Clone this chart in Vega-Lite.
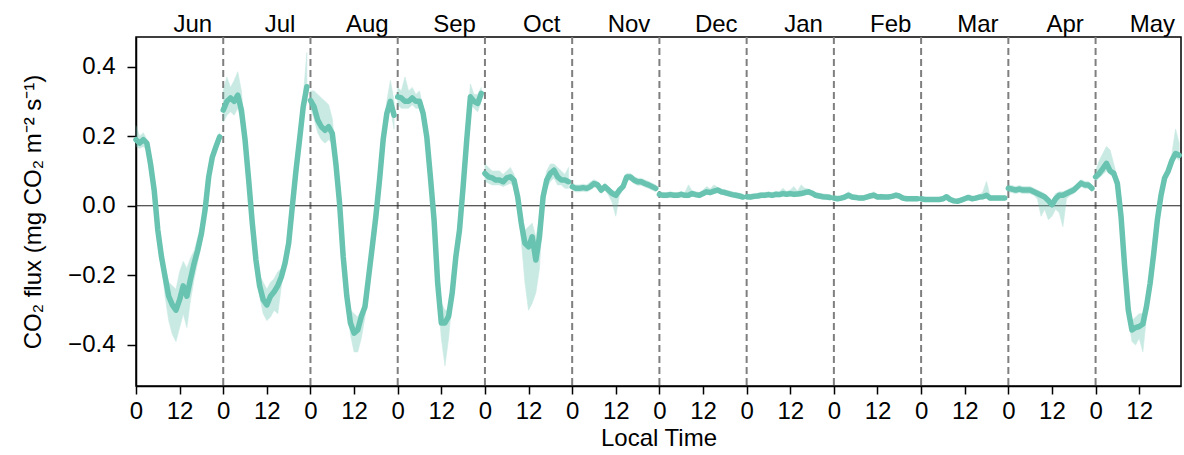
{
"$schema":"https://vega.github.io/schema/vega-lite/v6.json",
"width":1045,"height":349,
"autosize":"none",
"padding":{"left":136,"top":37,"right":3,"bottom":69},
"background":"white",
"config":{
 "view":{"stroke":"black","strokeWidth":1.5},
 "font":"Liberation Sans",
 "axis":{"labelFont":"Liberation Sans","titleFont":"Liberation Sans","labelFontSize":24,"titleFontSize":24,"titleFontWeight":"normal","labelColor":"black","titleColor":"black","domainColor":"black","tickColor":"black","domainWidth":1.5,"tickWidth":1.5,"tickSize":8,"grid":false}
},
"datasets":{
 "flux":[
{"m":"Jun","t":0,"v":0.19,"lo":0.17,"hi":0.23},
{"m":"Jun","t":1,"v":0.18,"lo":0.165,"hi":0.2},
{"m":"Jun","t":2,"v":0.19,"lo":0.17,"hi":0.21},
{"m":"Jun","t":3,"v":0.18,"lo":0.16,"hi":0.19},
{"m":"Jun","t":4,"v":0.12,"lo":0.105,"hi":0.13},
{"m":"Jun","t":5,"v":0.045,"lo":0.03,"hi":0.055},
{"m":"Jun","t":6,"v":-0.07,"lo":-0.085,"hi":-0.06},
{"m":"Jun","t":7,"v":-0.146,"lo":-0.165,"hi":-0.13},
{"m":"Jun","t":8,"v":-0.204,"lo":-0.26,"hi":-0.18},
{"m":"Jun","t":9,"v":-0.26,"lo":-0.33,"hi":-0.22},
{"m":"Jun","t":10,"v":-0.285,"lo":-0.37,"hi":-0.23},
{"m":"Jun","t":11,"v":-0.3,"lo":-0.39,"hi":-0.24},
{"m":"Jun","t":12,"v":-0.27,"lo":-0.35,"hi":-0.19},
{"m":"Jun","t":13,"v":-0.23,"lo":-0.31,"hi":-0.16},
{"m":"Jun","t":14,"v":-0.26,"lo":-0.35,"hi":-0.18},
{"m":"Jun","t":15,"v":-0.21,"lo":-0.27,"hi":-0.15},
{"m":"Jun","t":16,"v":-0.165,"lo":-0.21,"hi":-0.13},
{"m":"Jun","t":17,"v":-0.127,"lo":-0.16,"hi":-0.09},
{"m":"Jun","t":18,"v":-0.08,"lo":-0.11,"hi":-0.05},
{"m":"Jun","t":19,"v":-0.012,"lo":-0.03,"hi":0.005},
{"m":"Jun","t":20,"v":0.083,"lo":0.07,"hi":0.095},
{"m":"Jun","t":21,"v":0.14,"lo":0.125,"hi":0.15},
{"m":"Jun","t":22,"v":0.17,"lo":0.155,"hi":0.18},
{"m":"Jun","t":23,"v":0.198,"lo":0.185,"hi":0.21},
{"m":"Jul","t":24,"v":0.275,"lo":0.24,"hi":0.33},
{"m":"Jul","t":25,"v":0.3,"lo":0.26,"hi":0.37},
{"m":"Jul","t":26,"v":0.31,"lo":0.27,"hi":0.34},
{"m":"Jul","t":27,"v":0.3,"lo":0.26,"hi":0.36},
{"m":"Jul","t":28,"v":0.318,"lo":0.28,"hi":0.385},
{"m":"Jul","t":29,"v":0.275,"lo":0.245,"hi":0.33},
{"m":"Jul","t":30,"v":0.19,"lo":0.17,"hi":0.21},
{"m":"Jul","t":31,"v":0.074,"lo":0.06,"hi":0.09},
{"m":"Jul","t":32,"v":-0.05,"lo":-0.065,"hi":-0.04},
{"m":"Jul","t":33,"v":-0.156,"lo":-0.17,"hi":-0.14},
{"m":"Jul","t":34,"v":-0.23,"lo":-0.26,"hi":-0.2},
{"m":"Jul","t":35,"v":-0.27,"lo":-0.31,"hi":-0.22},
{"m":"Jul","t":36,"v":-0.285,"lo":-0.33,"hi":-0.24},
{"m":"Jul","t":37,"v":-0.26,"lo":-0.32,"hi":-0.22},
{"m":"Jul","t":38,"v":-0.247,"lo":-0.3,"hi":-0.21},
{"m":"Jul","t":39,"v":-0.23,"lo":-0.31,"hi":-0.19},
{"m":"Jul","t":40,"v":-0.204,"lo":-0.23,"hi":-0.18},
{"m":"Jul","t":41,"v":-0.165,"lo":-0.18,"hi":-0.14},
{"m":"Jul","t":42,"v":-0.108,"lo":-0.13,"hi":-0.09},
{"m":"Jul","t":43,"v":-0.003,"lo":-0.02,"hi":0.01},
{"m":"Jul","t":44,"v":0.1,"lo":0.09,"hi":0.12},
{"m":"Jul","t":45,"v":0.19,"lo":0.17,"hi":0.21},
{"m":"Jul","t":46,"v":0.284,"lo":0.26,"hi":0.31},
{"m":"Jul","t":47,"v":0.342,"lo":0.32,"hi":0.44},
{"m":"Aug","t":48,"v":0.303,"lo":0.28,"hi":0.33},
{"m":"Aug","t":49,"v":0.284,"lo":0.25,"hi":0.33},
{"m":"Aug","t":50,"v":0.246,"lo":0.21,"hi":0.32},
{"m":"Aug","t":51,"v":0.227,"lo":0.19,"hi":0.31},
{"m":"Aug","t":52,"v":0.217,"lo":0.18,"hi":0.3},
{"m":"Aug","t":53,"v":0.227,"lo":0.19,"hi":0.29},
{"m":"Aug","t":54,"v":0.208,"lo":0.18,"hi":0.25},
{"m":"Aug","t":55,"v":0.12,"lo":0.1,"hi":0.14},
{"m":"Aug","t":56,"v":0.008,"lo":-0.01,"hi":0.02},
{"m":"Aug","t":57,"v":-0.146,"lo":-0.16,"hi":-0.13},
{"m":"Aug","t":58,"v":-0.26,"lo":-0.28,"hi":-0.24},
{"m":"Aug","t":59,"v":-0.337,"lo":-0.37,"hi":-0.3},
{"m":"Aug","t":60,"v":-0.366,"lo":-0.42,"hi":-0.31},
{"m":"Aug","t":61,"v":-0.357,"lo":-0.42,"hi":-0.32},
{"m":"Aug","t":62,"v":-0.318,"lo":-0.38,"hi":-0.3},
{"m":"Aug","t":63,"v":-0.29,"lo":-0.32,"hi":-0.27},
{"m":"Aug","t":64,"v":-0.204,"lo":-0.22,"hi":-0.19},
{"m":"Aug","t":65,"v":-0.118,"lo":-0.13,"hi":-0.1},
{"m":"Aug","t":66,"v":-0.03,"lo":-0.04,"hi":-0.02},
{"m":"Aug","t":67,"v":0.074,"lo":0.06,"hi":0.09},
{"m":"Aug","t":68,"v":0.19,"lo":0.17,"hi":0.21},
{"m":"Aug","t":69,"v":0.265,"lo":0.25,"hi":0.3},
{"m":"Aug","t":70,"v":0.3,"lo":0.28,"hi":0.36},
{"m":"Aug","t":71,"v":0.26,"lo":0.22,"hi":0.3},
{"m":"Sep","t":72,"v":0.313,"lo":0.29,"hi":0.34},
{"m":"Sep","t":73,"v":0.31,"lo":0.28,"hi":0.33},
{"m":"Sep","t":74,"v":0.3,"lo":0.28,"hi":0.37},
{"m":"Sep","t":75,"v":0.3,"lo":0.28,"hi":0.33},
{"m":"Sep","t":76,"v":0.31,"lo":0.29,"hi":0.34},
{"m":"Sep","t":77,"v":0.3,"lo":0.28,"hi":0.32},
{"m":"Sep","t":78,"v":0.3,"lo":0.28,"hi":0.33},
{"m":"Sep","t":79,"v":0.265,"lo":0.25,"hi":0.28},
{"m":"Sep","t":80,"v":0.198,"lo":0.18,"hi":0.21},
{"m":"Sep","t":81,"v":0.083,"lo":0.07,"hi":0.1},
{"m":"Sep","t":82,"v":-0.04,"lo":-0.06,"hi":-0.02},
{"m":"Sep","t":83,"v":-0.223,"lo":-0.25,"hi":-0.19},
{"m":"Sep","t":84,"v":-0.337,"lo":-0.38,"hi":-0.28},
{"m":"Sep","t":85,"v":-0.337,"lo":-0.46,"hi":-0.3},
{"m":"Sep","t":86,"v":-0.318,"lo":-0.38,"hi":-0.3},
{"m":"Sep","t":87,"v":-0.25,"lo":-0.27,"hi":-0.23},
{"m":"Sep","t":88,"v":-0.146,"lo":-0.16,"hi":-0.13},
{"m":"Sep","t":89,"v":-0.07,"lo":-0.09,"hi":-0.05},
{"m":"Sep","t":90,"v":0.055,"lo":0.04,"hi":0.07},
{"m":"Sep","t":91,"v":0.19,"lo":0.17,"hi":0.21},
{"m":"Sep","t":92,"v":0.313,"lo":0.29,"hi":0.35},
{"m":"Sep","t":93,"v":0.3,"lo":0.28,"hi":0.32},
{"m":"Sep","t":94,"v":0.294,"lo":0.27,"hi":0.32},
{"m":"Sep","t":95,"v":0.323,"lo":0.3,"hi":0.34},
{"m":"Oct","t":96,"v":0.093,"lo":0.07,"hi":0.12},
{"m":"Oct","t":97,"v":0.083,"lo":0.065,"hi":0.11},
{"m":"Oct","t":98,"v":0.08,"lo":0.06,"hi":0.1},
{"m":"Oct","t":99,"v":0.074,"lo":0.06,"hi":0.1},
{"m":"Oct","t":100,"v":0.074,"lo":0.06,"hi":0.1},
{"m":"Oct","t":101,"v":0.069,"lo":0.055,"hi":0.09},
{"m":"Oct","t":102,"v":0.08,"lo":0.06,"hi":0.1},
{"m":"Oct","t":103,"v":0.083,"lo":0.065,"hi":0.11},
{"m":"Oct","t":104,"v":0.074,"lo":0.055,"hi":0.09},
{"m":"Oct","t":105,"v":0.026,"lo":0.005,"hi":0.04},
{"m":"Oct","t":106,"v":-0.05,"lo":-0.1,"hi":-0.03},
{"m":"Oct","t":107,"v":-0.108,"lo":-0.22,"hi":-0.07},
{"m":"Oct","t":108,"v":-0.118,"lo":-0.3,"hi":-0.06},
{"m":"Oct","t":109,"v":-0.089,"lo":-0.28,"hi":-0.05},
{"m":"Oct","t":110,"v":-0.156,"lo":-0.25,"hi":-0.09},
{"m":"Oct","t":111,"v":-0.089,"lo":-0.18,"hi":-0.04},
{"m":"Oct","t":112,"v":0.026,"lo":0.0,"hi":0.05},
{"m":"Oct","t":113,"v":0.074,"lo":0.05,"hi":0.1},
{"m":"Oct","t":114,"v":0.093,"lo":0.07,"hi":0.12},
{"m":"Oct","t":115,"v":0.102,"lo":0.08,"hi":0.12},
{"m":"Oct","t":116,"v":0.083,"lo":0.06,"hi":0.11},
{"m":"Oct","t":117,"v":0.074,"lo":0.06,"hi":0.1},
{"m":"Oct","t":118,"v":0.074,"lo":0.05,"hi":0.09},
{"m":"Oct","t":119,"v":0.069,"lo":0.05,"hi":0.11},
{"m":"Nov","t":120,"v":0.055,"lo":0.045,"hi":0.065},
{"m":"Nov","t":121,"v":0.05,"lo":0.04,"hi":0.06},
{"m":"Nov","t":122,"v":0.05,"lo":0.04,"hi":0.06},
{"m":"Nov","t":123,"v":0.052,"lo":0.042,"hi":0.062},
{"m":"Nov","t":124,"v":0.05,"lo":0.04,"hi":0.06},
{"m":"Nov","t":125,"v":0.055,"lo":0.045,"hi":0.068},
{"m":"Nov","t":126,"v":0.064,"lo":0.054,"hi":0.075},
{"m":"Nov","t":127,"v":0.06,"lo":0.05,"hi":0.07},
{"m":"Nov","t":128,"v":0.045,"lo":0.035,"hi":0.055},
{"m":"Nov","t":129,"v":0.055,"lo":0.045,"hi":0.065},
{"m":"Nov","t":130,"v":0.045,"lo":0.03,"hi":0.055},
{"m":"Nov","t":131,"v":0.035,"lo":0.01,"hi":0.045},
{"m":"Nov","t":132,"v":0.03,"lo":-0.03,"hi":0.04},
{"m":"Nov","t":133,"v":0.045,"lo":0.03,"hi":0.055},
{"m":"Nov","t":134,"v":0.055,"lo":0.045,"hi":0.065},
{"m":"Nov","t":135,"v":0.083,"lo":0.073,"hi":0.093},
{"m":"Nov","t":136,"v":0.083,"lo":0.073,"hi":0.093},
{"m":"Nov","t":137,"v":0.074,"lo":0.064,"hi":0.084},
{"m":"Nov","t":138,"v":0.069,"lo":0.059,"hi":0.079},
{"m":"Nov","t":139,"v":0.069,"lo":0.059,"hi":0.079},
{"m":"Nov","t":140,"v":0.064,"lo":0.054,"hi":0.074},
{"m":"Nov","t":141,"v":0.06,"lo":0.05,"hi":0.07},
{"m":"Nov","t":142,"v":0.055,"lo":0.045,"hi":0.065},
{"m":"Nov","t":143,"v":0.05,"lo":0.04,"hi":0.06},
{"m":"Dec","t":144,"v":0.033,"lo":0.026,"hi":0.041},
{"m":"Dec","t":145,"v":0.03,"lo":0.023,"hi":0.038},
{"m":"Dec","t":146,"v":0.03,"lo":0.023,"hi":0.038},
{"m":"Dec","t":147,"v":0.032,"lo":0.025,"hi":0.04},
{"m":"Dec","t":148,"v":0.03,"lo":0.023,"hi":0.038},
{"m":"Dec","t":149,"v":0.03,"lo":0.023,"hi":0.038},
{"m":"Dec","t":150,"v":0.033,"lo":0.026,"hi":0.041},
{"m":"Dec","t":151,"v":0.03,"lo":0.023,"hi":0.038},
{"m":"Dec","t":152,"v":0.03,"lo":0.023,"hi":0.06},
{"m":"Dec","t":153,"v":0.035,"lo":0.028,"hi":0.043},
{"m":"Dec","t":154,"v":0.032,"lo":0.025,"hi":0.04},
{"m":"Dec","t":155,"v":0.03,"lo":0.023,"hi":0.038},
{"m":"Dec","t":156,"v":0.035,"lo":0.028,"hi":0.045},
{"m":"Dec","t":157,"v":0.04,"lo":0.033,"hi":0.055},
{"m":"Dec","t":158,"v":0.038,"lo":0.031,"hi":0.048},
{"m":"Dec","t":159,"v":0.042,"lo":0.035,"hi":0.06},
{"m":"Dec","t":160,"v":0.045,"lo":0.038,"hi":0.053},
{"m":"Dec","t":161,"v":0.04,"lo":0.033,"hi":0.048},
{"m":"Dec","t":162,"v":0.038,"lo":0.031,"hi":0.046},
{"m":"Dec","t":163,"v":0.035,"lo":0.028,"hi":0.043},
{"m":"Dec","t":164,"v":0.032,"lo":0.025,"hi":0.04},
{"m":"Dec","t":165,"v":0.03,"lo":0.023,"hi":0.038},
{"m":"Dec","t":166,"v":0.028,"lo":0.021,"hi":0.036},
{"m":"Dec","t":167,"v":0.025,"lo":0.018,"hi":0.033},
{"m":"Jan","t":168,"v":0.026,"lo":0.019,"hi":0.034},
{"m":"Jan","t":169,"v":0.025,"lo":0.018,"hi":0.033},
{"m":"Jan","t":170,"v":0.027,"lo":0.02,"hi":0.035},
{"m":"Jan","t":171,"v":0.028,"lo":0.021,"hi":0.036},
{"m":"Jan","t":172,"v":0.03,"lo":0.023,"hi":0.038},
{"m":"Jan","t":173,"v":0.03,"lo":0.023,"hi":0.038},
{"m":"Jan","t":174,"v":0.032,"lo":0.025,"hi":0.04},
{"m":"Jan","t":175,"v":0.03,"lo":0.023,"hi":0.038},
{"m":"Jan","t":176,"v":0.033,"lo":0.026,"hi":0.041},
{"m":"Jan","t":177,"v":0.032,"lo":0.025,"hi":0.04},
{"m":"Jan","t":178,"v":0.035,"lo":0.028,"hi":0.05},
{"m":"Jan","t":179,"v":0.033,"lo":0.026,"hi":0.041},
{"m":"Jan","t":180,"v":0.035,"lo":0.028,"hi":0.045},
{"m":"Jan","t":181,"v":0.033,"lo":0.026,"hi":0.055},
{"m":"Jan","t":182,"v":0.034,"lo":0.027,"hi":0.042},
{"m":"Jan","t":183,"v":0.035,"lo":0.028,"hi":0.06},
{"m":"Jan","t":184,"v":0.038,"lo":0.031,"hi":0.05},
{"m":"Jan","t":185,"v":0.04,"lo":0.033,"hi":0.048},
{"m":"Jan","t":186,"v":0.036,"lo":0.029,"hi":0.044},
{"m":"Jan","t":187,"v":0.03,"lo":0.023,"hi":0.038},
{"m":"Jan","t":188,"v":0.028,"lo":0.021,"hi":0.036},
{"m":"Jan","t":189,"v":0.026,"lo":0.019,"hi":0.034},
{"m":"Jan","t":190,"v":0.025,"lo":0.018,"hi":0.033},
{"m":"Jan","t":191,"v":0.024,"lo":0.017,"hi":0.032},
{"m":"Feb","t":192,"v":0.022,"lo":0.016,"hi":0.029},
{"m":"Feb","t":193,"v":0.02,"lo":0.014,"hi":0.027},
{"m":"Feb","t":194,"v":0.022,"lo":0.016,"hi":0.029},
{"m":"Feb","t":195,"v":0.025,"lo":0.019,"hi":0.032},
{"m":"Feb","t":196,"v":0.03,"lo":0.024,"hi":0.04},
{"m":"Feb","t":197,"v":0.025,"lo":0.019,"hi":0.032},
{"m":"Feb","t":198,"v":0.024,"lo":0.018,"hi":0.031},
{"m":"Feb","t":199,"v":0.022,"lo":0.016,"hi":0.029},
{"m":"Feb","t":200,"v":0.022,"lo":0.016,"hi":0.029},
{"m":"Feb","t":201,"v":0.025,"lo":0.019,"hi":0.032},
{"m":"Feb","t":202,"v":0.028,"lo":0.022,"hi":0.035},
{"m":"Feb","t":203,"v":0.03,"lo":0.024,"hi":0.04},
{"m":"Feb","t":204,"v":0.025,"lo":0.019,"hi":0.032},
{"m":"Feb","t":205,"v":0.026,"lo":0.02,"hi":0.033},
{"m":"Feb","t":206,"v":0.025,"lo":0.019,"hi":0.032},
{"m":"Feb","t":207,"v":0.025,"lo":0.019,"hi":0.032},
{"m":"Feb","t":208,"v":0.027,"lo":0.021,"hi":0.034},
{"m":"Feb","t":209,"v":0.03,"lo":0.024,"hi":0.038},
{"m":"Feb","t":210,"v":0.028,"lo":0.022,"hi":0.035},
{"m":"Feb","t":211,"v":0.022,"lo":0.016,"hi":0.029},
{"m":"Feb","t":212,"v":0.02,"lo":0.014,"hi":0.027},
{"m":"Feb","t":213,"v":0.02,"lo":0.014,"hi":0.027},
{"m":"Feb","t":214,"v":0.02,"lo":0.014,"hi":0.027},
{"m":"Feb","t":215,"v":0.02,"lo":0.014,"hi":0.027},
{"m":"Mar","t":216,"v":0.02,"lo":0.014,"hi":0.026},
{"m":"Mar","t":217,"v":0.018,"lo":0.012,"hi":0.024},
{"m":"Mar","t":218,"v":0.018,"lo":0.012,"hi":0.024},
{"m":"Mar","t":219,"v":0.018,"lo":0.012,"hi":0.024},
{"m":"Mar","t":220,"v":0.018,"lo":0.012,"hi":0.024},
{"m":"Mar","t":221,"v":0.018,"lo":0.012,"hi":0.024},
{"m":"Mar","t":222,"v":0.02,"lo":0.014,"hi":0.026},
{"m":"Mar","t":223,"v":0.026,"lo":0.02,"hi":0.032},
{"m":"Mar","t":224,"v":0.018,"lo":0.012,"hi":0.024},
{"m":"Mar","t":225,"v":0.014,"lo":0.008,"hi":0.02},
{"m":"Mar","t":226,"v":0.013,"lo":0.007,"hi":0.019},
{"m":"Mar","t":227,"v":0.016,"lo":0.01,"hi":0.022},
{"m":"Mar","t":228,"v":0.02,"lo":0.014,"hi":0.026},
{"m":"Mar","t":229,"v":0.024,"lo":0.018,"hi":0.03},
{"m":"Mar","t":230,"v":0.02,"lo":0.014,"hi":0.026},
{"m":"Mar","t":231,"v":0.022,"lo":0.016,"hi":0.028},
{"m":"Mar","t":232,"v":0.025,"lo":0.019,"hi":0.031},
{"m":"Mar","t":233,"v":0.026,"lo":0.02,"hi":0.04},
{"m":"Mar","t":234,"v":0.03,"lo":0.024,"hi":0.07},
{"m":"Mar","t":235,"v":0.022,"lo":0.016,"hi":0.028},
{"m":"Mar","t":236,"v":0.022,"lo":0.016,"hi":0.028},
{"m":"Mar","t":237,"v":0.022,"lo":0.016,"hi":0.028},
{"m":"Mar","t":238,"v":0.022,"lo":0.016,"hi":0.028},
{"m":"Mar","t":239,"v":0.022,"lo":0.016,"hi":0.028},
{"m":"Apr","t":240,"v":0.05,"lo":0.04,"hi":0.06},
{"m":"Apr","t":241,"v":0.048,"lo":0.038,"hi":0.058},
{"m":"Apr","t":242,"v":0.045,"lo":0.035,"hi":0.055},
{"m":"Apr","t":243,"v":0.048,"lo":0.038,"hi":0.058},
{"m":"Apr","t":244,"v":0.045,"lo":0.035,"hi":0.055},
{"m":"Apr","t":245,"v":0.045,"lo":0.035,"hi":0.055},
{"m":"Apr","t":246,"v":0.045,"lo":0.035,"hi":0.055},
{"m":"Apr","t":247,"v":0.04,"lo":0.03,"hi":0.05},
{"m":"Apr","t":248,"v":0.035,"lo":0.02,"hi":0.045},
{"m":"Apr","t":249,"v":0.03,"lo":-0.03,"hi":0.04},
{"m":"Apr","t":250,"v":0.025,"lo":-0.01,"hi":0.035},
{"m":"Apr","t":251,"v":0.015,"lo":-0.04,"hi":0.025},
{"m":"Apr","t":252,"v":0.003,"lo":-0.03,"hi":0.015},
{"m":"Apr","t":253,"v":0.02,"lo":-0.01,"hi":0.035},
{"m":"Apr","t":254,"v":0.03,"lo":-0.02,"hi":0.04},
{"m":"Apr","t":255,"v":0.03,"lo":-0.06,"hi":0.04},
{"m":"Apr","t":256,"v":0.035,"lo":0.02,"hi":0.045},
{"m":"Apr","t":257,"v":0.04,"lo":0.03,"hi":0.05},
{"m":"Apr","t":258,"v":0.045,"lo":0.035,"hi":0.055},
{"m":"Apr","t":259,"v":0.055,"lo":0.045,"hi":0.065},
{"m":"Apr","t":260,"v":0.065,"lo":0.055,"hi":0.075},
{"m":"Apr","t":261,"v":0.06,"lo":0.05,"hi":0.07},
{"m":"Apr","t":262,"v":0.06,"lo":0.05,"hi":0.07},
{"m":"Apr","t":263,"v":0.05,"lo":0.04,"hi":0.06},
{"m":"May","t":264,"v":0.083,"lo":0.07,"hi":0.1},
{"m":"May","t":265,"v":0.093,"lo":0.08,"hi":0.13},
{"m":"May","t":266,"v":0.107,"lo":0.09,"hi":0.15},
{"m":"May","t":267,"v":0.122,"lo":0.1,"hi":0.17},
{"m":"May","t":268,"v":0.1,"lo":0.09,"hi":0.16},
{"m":"May","t":269,"v":0.093,"lo":0.08,"hi":0.12},
{"m":"May","t":270,"v":0.064,"lo":0.05,"hi":0.08},
{"m":"May","t":271,"v":-0.03,"lo":-0.04,"hi":-0.02},
{"m":"May","t":272,"v":-0.175,"lo":-0.19,"hi":-0.16},
{"m":"May","t":273,"v":-0.3,"lo":-0.32,"hi":-0.28},
{"m":"May","t":274,"v":-0.357,"lo":-0.39,"hi":-0.33},
{"m":"May","t":275,"v":-0.35,"lo":-0.4,"hi":-0.32},
{"m":"May","t":276,"v":-0.347,"lo":-0.38,"hi":-0.31},
{"m":"May","t":277,"v":-0.34,"lo":-0.42,"hi":-0.31},
{"m":"May","t":278,"v":-0.29,"lo":-0.32,"hi":-0.27},
{"m":"May","t":279,"v":-0.223,"lo":-0.24,"hi":-0.2},
{"m":"May","t":280,"v":-0.137,"lo":-0.15,"hi":-0.12},
{"m":"May","t":281,"v":-0.04,"lo":-0.05,"hi":-0.03},
{"m":"May","t":282,"v":0.03,"lo":0.02,"hi":0.05},
{"m":"May","t":283,"v":0.08,"lo":0.07,"hi":0.09},
{"m":"May","t":284,"v":0.1,"lo":0.09,"hi":0.12},
{"m":"May","t":285,"v":0.13,"lo":0.12,"hi":0.15},
{"m":"May","t":286,"v":0.15,"lo":0.14,"hi":0.22},
{"m":"May","t":287,"v":0.145,"lo":0.13,"hi":0.18}
 ],
 "bounds":[{"b":24},{"b":48},{"b":72},{"b":96},{"b":120},{"b":144},{"b":168},{"b":192},{"b":216},{"b":240},{"b":264}],
 "zero":[{"z":0}]
},
"resolve":{"axis":{"x":"independent"}},
"layer":[
 {"data":{"name":"bounds"},
  "mark":{"type":"rule","color":"#7f7f7f","strokeDash":[7,4],"strokeWidth":2},
  "encoding":{"x":{"field":"b","type":"quantitative","scale":{"domain":[0,287.5],"nice":false,"zero":false},
   "axis":{"orient":"top","values":[15.5,39.5,63.5,87.5,111.5,135.5,159.5,183.5,207.5,231.5,255.5,279.5],
    "labelExpr":"['Jun','Jul','Aug','Sep','Oct','Nov','Dec','Jan','Feb','Mar','Apr','May'][floor(datum.value/24)]",
    "ticks":false,"tickSize":0,"domain":false,"title":null,"labelPadding":1,"labelFontSize":24,"labelFont":"Liberation Sans","labelColor":"black"}}}},
 {"data":{"name":"zero"},
  "mark":{"type":"rule","color":"#222222","strokeWidth":1.2},
  "encoding":{"y":{"field":"z","type":"quantitative","scale":{"domain":[-0.518,0.485],"nice":false,"zero":false},
    "axis":{"values":[-0.4,-0.2,0,0.2,0.4],"format":".1f","tickSize":9,"labelPadding":12,"labelFontSize":24,"labelFont":"Liberation Sans","labelColor":"black","title":"CO₂ flux (mg CO₂ m⁻² s⁻¹)","titleFontSize":24,"titleFont":"Liberation Sans","titleFontWeight":"normal","titleColor":"black","titlePadding":22}}}},
 {"data":{"name":"flux"},
  "mark":{"type":"area","color":"#68c3b0","opacity":0.35,"stroke":"#68c3b0","strokeWidth":1,"strokeOpacity":0.6},
  "encoding":{
   "x":{"field":"t","type":"quantitative","scale":{"domain":[0,287.5],"nice":false,"zero":false},
    "axis":{"orient":"bottom","values":[0,12,24,36,48,60,72,84,96,108,120,132,144,156,168,180,192,204,216,228,240,252,264,276],
     "labelExpr":"datum.value % 24","title":"Local Time","labelPadding":5,"titlePadding":3,"labelFlush":false,"labelOverlap":false,"labelFontSize":24,"labelFont":"Liberation Sans","labelColor":"black","titleFontSize":24,"titleFont":"Liberation Sans","titleFontWeight":"normal","titleColor":"black","tickSize":8}},
   "y":{"field":"lo","type":"quantitative","scale":{"domain":[-0.518,0.485],"nice":false,"zero":false},
    "axis":{"values":[-0.4,-0.2,0,0.2,0.4],"format":".1f","tickSize":9,"labelPadding":12,"labelFontSize":24,"labelFont":"Liberation Sans","labelColor":"black","title":"CO₂ flux (mg CO₂ m⁻² s⁻¹)","titleFontSize":24,"titleFont":"Liberation Sans","titleFontWeight":"normal","titleColor":"black","titlePadding":22}},
   "y2":{"field":"hi"},
   "detail":{"field":"m"}}},
 {"data":{"name":"flux"},
  "mark":{"type":"line","color":"#68c3b0","strokeWidth":5.5,"strokeJoin":"round","strokeCap":"round"},
  "encoding":{
   "x":{"field":"t","type":"quantitative","scale":{"domain":[0,287.5],"nice":false,"zero":false},"axis":null},
   "y":{"field":"v","type":"quantitative","scale":{"domain":[-0.518,0.485],"nice":false,"zero":false},
    "axis":{"values":[-0.4,-0.2,0,0.2,0.4],"format":".1f","tickSize":9,"labelPadding":12,"labelFontSize":24,"labelFont":"Liberation Sans","labelColor":"black","title":"CO₂ flux (mg CO₂ m⁻² s⁻¹)","titleFontSize":24,"titleFont":"Liberation Sans","titleFontWeight":"normal","titleColor":"black","titlePadding":22}},
   "detail":{"field":"m"}}}
]
}
